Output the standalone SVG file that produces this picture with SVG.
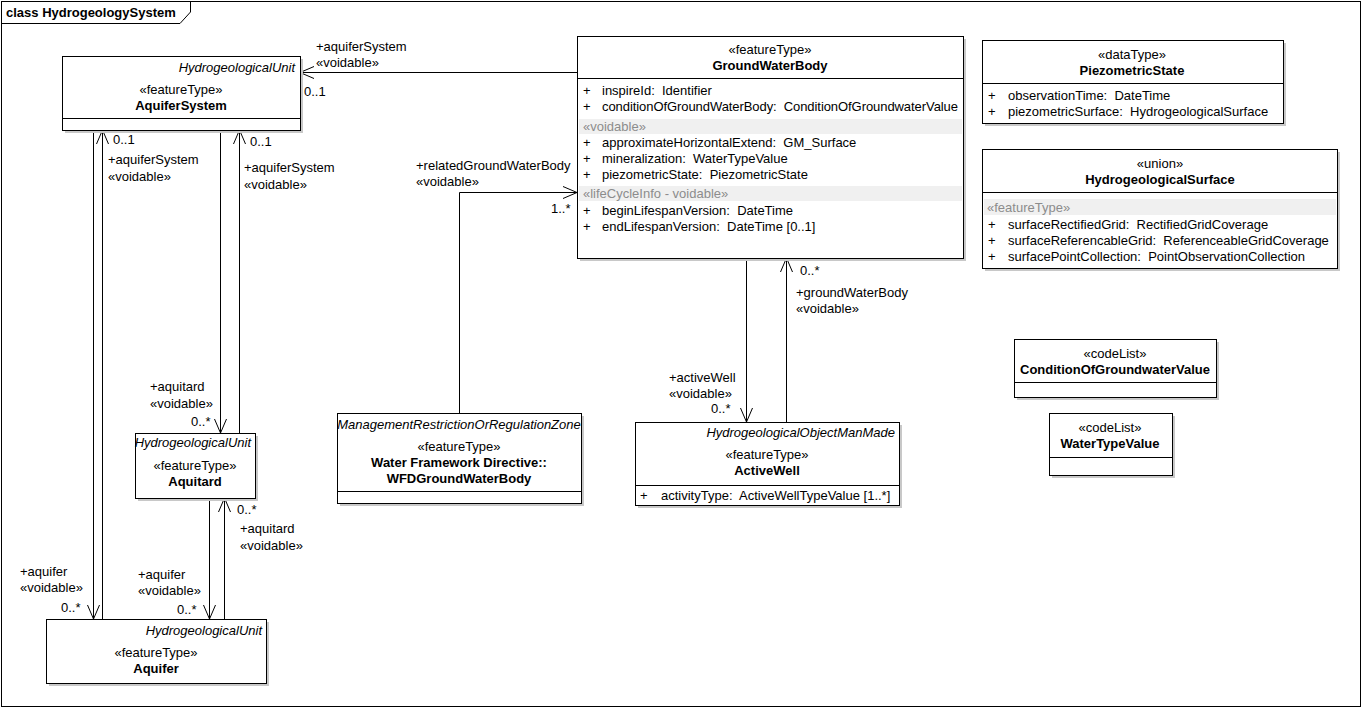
<svg xmlns="http://www.w3.org/2000/svg" width="1363" height="709" viewBox="0 0 1363 709">
<style>
text{font-family:"Liberation Sans",Arial,sans-serif;font-size:13px;fill:#000;white-space:pre}
.b{font-weight:bold}
.i{font-style:italic}
.g{fill:#8c8c8c}
.m{text-anchor:middle}
.e{text-anchor:end}
.box{fill:#fff;stroke:#000;stroke-width:1}
.sh{fill:#c8c8c8}
.band{fill:#f0f0f0}
.ln{fill:none;stroke:#000;stroke-width:1}
</style>
<defs>
<marker id="arr" viewBox="0 0 14 14" refX="14" refY="7" markerWidth="14" markerHeight="14" markerUnits="userSpaceOnUse" orient="auto">
<path d="M0,1 L14,7 L0,13" fill="none" stroke="#000" stroke-width="1"/>
</marker>
</defs>
<rect x="0" y="0" width="1363" height="709" fill="#fff"/>
<g id="frame">
<rect x="1.5" y="1.5" width="1359" height="705" fill="none" stroke="#000"/>
<path d="M1.5,23.5 L180,23.5 L190.5,12 L190.5,1.5" fill="none" stroke="#000"/>
<text x="6" y="17" class="b">class HydrogeologySystem</text>
</g>
<g id="connectors">
<path class="ln" d="M577,72.5 L300,72.5" marker-end="url(#arr)"/>
<path class="ln" d="M102.5,619 L102.5,130" marker-end="url(#arr)"/>
<path class="ln" d="M93.5,130 L93.5,619" marker-end="url(#arr)"/>
<path class="ln" d="M239.5,433 L239.5,130" marker-end="url(#arr)"/>
<path class="ln" d="M220.5,130 L220.5,433" marker-end="url(#arr)"/>
<path class="ln" d="M224.5,619 L224.5,498" marker-end="url(#arr)"/>
<path class="ln" d="M209.5,498 L209.5,619" marker-end="url(#arr)"/>
<path class="ln" d="M459.5,413 L459.5,192.5 L577,192.5" marker-end="url(#arr)"/>
<path class="ln" d="M746.5,258 L746.5,422" marker-end="url(#arr)"/>
<path class="ln" d="M786.5,422 L786.5,258" marker-end="url(#arr)"/>
<text x="316" y="51">+aquiferSystem</text>
<text x="316" y="67">«voidable»</text>
<text x="304" y="96">0..1</text>
<text x="113" y="144">0..1</text>
<text x="108" y="164">+aquiferSystem</text>
<text x="108" y="181">«voidable»</text>
<text x="20" y="576">+aquifer</text>
<text x="20" y="592">«voidable»</text>
<text x="61" y="612">0..*</text>
<text x="250" y="146">0..1</text>
<text x="244" y="172">+aquiferSystem</text>
<text x="244" y="189">«voidable»</text>
<text x="150" y="391">+aquitard</text>
<text x="150" y="408">«voidable»</text>
<text x="191" y="426">0..*</text>
<text x="237" y="514">0..*</text>
<text x="240" y="533">+aquitard</text>
<text x="240" y="550">«voidable»</text>
<text x="138" y="579">+aquifer</text>
<text x="138" y="595">«voidable»</text>
<text x="177" y="614">0..*</text>
<text x="416" y="170">+relatedGroundWaterBody</text>
<text x="416" y="186">«voidable»</text>
<text x="551" y="213">1..*</text>
<text x="669" y="382">+activeWell</text>
<text x="669" y="398">«voidable»</text>
<text x="711" y="413">0..*</text>
<text x="800" y="275">0..*</text>
<text x="796" y="297">+groundWaterBody</text>
<text x="796" y="313">«voidable»</text>
</g>
<g id="AquiferSystem">
<rect class="sh" x="65" y="59" width="238" height="74"/>
<rect class="box" x="62.5" y="56.5" width="238" height="74"/>
<line class="ln" x1="62.5" y1="118.5" x2="300.5" y2="118.5"/>
<text x="295" y="72" class="i e">HydrogeologicalUnit</text>
<text x="181" y="94" class="m">«featureType»</text>
<text x="181" y="110" class="b m">AquiferSystem</text>
</g>
<g id="GroundWaterBody">
<rect class="sh" x="580" y="39" width="386" height="222"/>
<rect class="box" x="577.5" y="36.5" width="386" height="222"/>
<line class="ln" x1="577.5" y1="78.5" x2="963.5" y2="78.5"/>
<text x="770" y="54" class="m">«featureType»</text>
<text x="770" y="70" class="b m">GroundWaterBody</text>
<rect class="band" x="579" y="119" width="383" height="15"/>
<rect class="band" x="579" y="186" width="383" height="15"/>
<text x="583" y="95">+</text><text x="602" y="95">inspireId:  Identifier</text>
<text x="583" y="111">+</text><text x="602" y="111" textLength="356">conditionOfGroundWaterBody:  ConditionOfGroundwaterValue</text>
<text x="583" y="131" class="g">«voidable»</text>
<text x="583" y="147">+</text><text x="602" y="147">approximateHorizontalExtend:  GM_Surface</text>
<text x="583" y="163">+</text><text x="602" y="163">mineralization:  WaterTypeValue</text>
<text x="583" y="179">+</text><text x="602" y="179">piezometricState:  PiezometricState</text>
<text x="583" y="198" class="g">«lifeCycleInfo - voidable»</text>
<text x="583" y="215">+</text><text x="602" y="215">beginLifespanVersion:  DateTime</text>
<text x="583" y="231">+</text><text x="602" y="231">endLifespanVersion:  DateTime [0..1]</text>
</g>
<g id="PiezometricState">
<rect class="sh" x="985" y="43" width="301" height="83"/>
<rect class="box" x="982.5" y="40.5" width="301" height="83"/>
<line class="ln" x1="982.5" y1="83.5" x2="1283.5" y2="83.5"/>
<text x="1132" y="59" class="m">«dataType»</text>
<text x="1132" y="75" class="b m">PiezometricState</text>
<text x="988" y="100">+</text><text x="1008" y="100">observationTime:  DateTime</text>
<text x="988" y="116">+</text><text x="1008" y="116">piezometricSurface:  HydrogeologicalSurface</text>
</g>
<g id="HydrogeologicalSurface">
<rect class="sh" x="985" y="152" width="355" height="119"/>
<rect class="box" x="982.5" y="149.5" width="355" height="119"/>
<line class="ln" x1="982.5" y1="192.5" x2="1337.5" y2="192.5"/>
<text x="1160" y="168" class="m">«union»</text>
<text x="1160" y="184" class="b m">HydrogeologicalSurface</text>
<rect class="band" x="984" y="199" width="352" height="16"/>
<text x="987" y="212" class="g">«featureType»</text>
<text x="988" y="229">+</text><text x="1008" y="229">surfaceRectifiedGrid:  RectifiedGridCoverage</text>
<text x="988" y="245">+</text><text x="1008" y="245">surfaceReferencableGrid:  ReferenceableGridCoverage</text>
<text x="988" y="261">+</text><text x="1008" y="261">surfacePointCollection:  PointObservationCollection</text>
</g>
<g id="Aquitard">
<rect class="sh" x="138" y="436" width="120" height="65"/>
<rect class="box" x="135.5" y="433.5" width="120" height="65"/>
<text x="251" y="447" class="i e">HydrogeologicalUnit</text>
<text x="195" y="470" class="m">«featureType»</text>
<text x="195" y="486" class="b m">Aquitard</text>
</g>
<g id="Aquifer">
<rect class="sh" x="49" y="622" width="220" height="64"/>
<rect class="box" x="46.5" y="619.5" width="220" height="64"/>
<text x="262" y="635" class="i e">HydrogeologicalUnit</text>
<text x="156" y="657" class="m">«featureType»</text>
<text x="156" y="673" class="b m">Aquifer</text>
</g>
<g id="WFDGroundWaterBody">
<rect class="sh" x="340" y="416" width="244" height="90"/>
<rect class="box" x="337.5" y="413.5" width="244" height="90"/>
<line class="ln" x1="337.5" y1="491.5" x2="581.5" y2="491.5"/>
<text x="459" y="429" class="i m">ManagementRestrictionOrRegulationZone</text>
<text x="459" y="451" class="m">«featureType»</text>
<text x="459" y="467" class="b m">Water Framework Directive::</text>
<text x="459" y="483" class="b m">WFDGroundWaterBody</text>
</g>
<g id="ActiveWell">
<rect class="sh" x="638" y="425" width="264" height="83"/>
<rect class="box" x="635.5" y="422.5" width="264" height="83"/>
<line class="ln" x1="635.5" y1="485.5" x2="899.5" y2="485.5"/>
<text x="895" y="437" class="i e">HydrogeologicalObjectManMade</text>
<text x="767" y="459" class="m">«featureType»</text>
<text x="767" y="475" class="b m">ActiveWell</text>
<text x="640" y="500">+</text><text x="661" y="500">activityType:  ActiveWellTypeValue [1..*]</text>
</g>
<g id="ConditionOfGroundwaterValue">
<rect class="sh" x="1017" y="342" width="202" height="58"/>
<rect class="box" x="1014.5" y="339.5" width="202" height="58"/>
<line class="ln" x1="1014.5" y1="382.5" x2="1216.5" y2="382.5"/>
<text x="1115" y="358" class="m">«codeList»</text>
<text x="1115" y="374" class="b m">ConditionOfGroundwaterValue</text>
</g>
<g id="WaterTypeValue">
<rect class="sh" x="1052" y="416" width="123" height="62"/>
<rect class="box" x="1049.5" y="413.5" width="123" height="62"/>
<line class="ln" x1="1049.5" y1="457.5" x2="1172.5" y2="457.5"/>
<text x="1110" y="432" class="m">«codeList»</text>
<text x="1110" y="448" class="b m">WaterTypeValue</text>
</g>
</svg>
